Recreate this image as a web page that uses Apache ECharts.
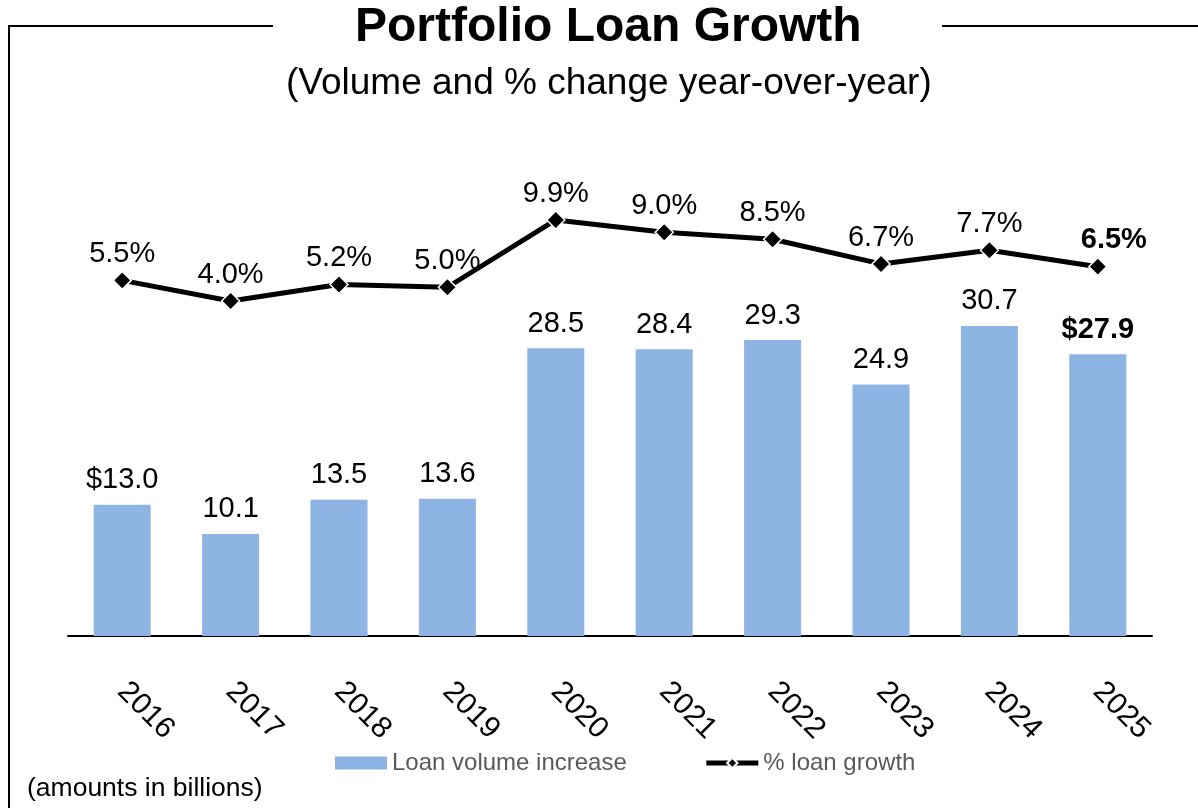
<!DOCTYPE html>
<html>
<head>
<meta charset="utf-8">
<script src="https://cdn.jsdelivr.net/npm/echarts@6/dist/echarts.min.js"></script>
<style>
  html, body { margin: 0; padding: 0; background: #fff; }
  #chart { width: 1198px; height: 808px; }
</style>
</head>
<body>
<div id="chart"></div>
<script>
let years = ['2016', '2017', '2018', '2019', '2020', '2021', '2022', '2023', '2024', '2025'];
let loanVolume = [13.0, 10.1, 13.5, 13.6, 28.5, 28.4, 29.3, 24.9, 30.7, 27.9];
let loanGrowth = [5.5, 4.0, 5.2, 5.0, 9.9, 9.0, 8.5, 6.7, 7.7, 6.5];

let font = '"Liberation Sans", Arial, sans-serif';
let chart = echarts.init(document.getElementById('chart'));
let last = years.length - 1;

let barData = loanVolume.map(function (v, i) {
    let item = {value: v};
    if (i === last) item.label = {fontWeight: 'bold'};
    return item;
});
let lineData = loanGrowth.map(function (v, i) {
    let item = {value: v};
    if (i === last) item.label = {fontWeight: 'bold', offset: [16, 0]};
    return item;
});

let option = {
    backgroundColor: '#fff',
    animation: false,
    textStyle: {fontFamily: font},
    title: [
        {
            text: 'Portfolio Loan Growth',
            left: 350,
            top: -1,
            textStyle: {fontFamily: font, fontSize: 48, fontWeight: 'bold', color: '#000'}
        },
        {
            text: '(Volume and % change year-over-year)',
            left: 281,
            top: 60,
            textStyle: {fontFamily: font, fontSize: 37, fontWeight: 'normal', color: '#000'}
        }
    ],
    graphic: [
        {type: 'line', shape: {x1: 8, y1: 26, x2: 273, y2: 26}, style: {stroke: '#000', lineWidth: 2}},
        {type: 'line', shape: {x1: 942, y1: 26, x2: 1198, y2: 26}, style: {stroke: '#000', lineWidth: 2}},
        {type: 'line', shape: {x1: 9, y1: 25, x2: 9, y2: 808}, style: {stroke: '#000', lineWidth: 2}},
        {
            type: 'text', left: 27, top: 775,
            style: {text: '(amounts in billions)', font: '26.5px ' + font, fill: '#000'}
        }
    ],
    legend: {
        left: 330,
        top: 746,
        itemWidth: 52,
        itemHeight: 13,
        itemGap: 77,
        textStyle: {fontFamily: font, fontSize: 24, color: '#595959'},
        data: [
            {name: 'Loan volume increase', icon: 'rect'},
            {name: '% loan growth', lineStyle: {width: 5}}
        ]
    },
    grid: {left: 68, right: 46, top: 131, bottom: 172},
    xAxis: {
        type: 'category',
        data: years,
        axisLine: {lineStyle: {color: '#000', width: 2}},
        axisTick: {show: false},
        axisLabel: {
            rotate: -45,
            margin: 51,
            fontFamily: font,
            fontSize: 30,
            color: '#000'
        }
    },
    yAxis: [
        {type: 'value', min: 0, max: 50, show: false, splitLine: {show: false}},
        {type: 'value', min: -20.4, max: 16.38, show: false, splitLine: {show: false}}
    ],
    series: [
        {
            name: 'Loan volume increase',
            type: 'bar',
            barWidth: 57,
            yAxisIndex: 0,
            itemStyle: {color: '#8EB4E3'},
            label: {
                show: true,
                position: 'top',
                distance: 10,
                fontFamily: font,
                fontSize: 29,
                color: '#000',
                formatter: function (p) {
                    let s = p.value.toFixed(1);
                    return (p.dataIndex === 0 || p.dataIndex === last) ? '$' + s : s;
                }
            },
            data: barData
        },
        {
            name: '% loan growth',
            type: 'line',
            yAxisIndex: 1,
            symbol: 'diamond',
            symbolSize: 18,
            lineStyle: {color: '#000', width: 5},
            itemStyle: {color: '#000', borderColor: '#fff', borderWidth: 1.5},
            label: {
                show: true,
                position: 'top',
                distance: 2,
                fontFamily: font,
                fontSize: 29,
                color: '#000',
                formatter: function (p) { return p.value.toFixed(1) + '%'; }
            },
            data: lineData
        }
    ]
};

chart.setOption(option);
</script>
</body>
</html>
